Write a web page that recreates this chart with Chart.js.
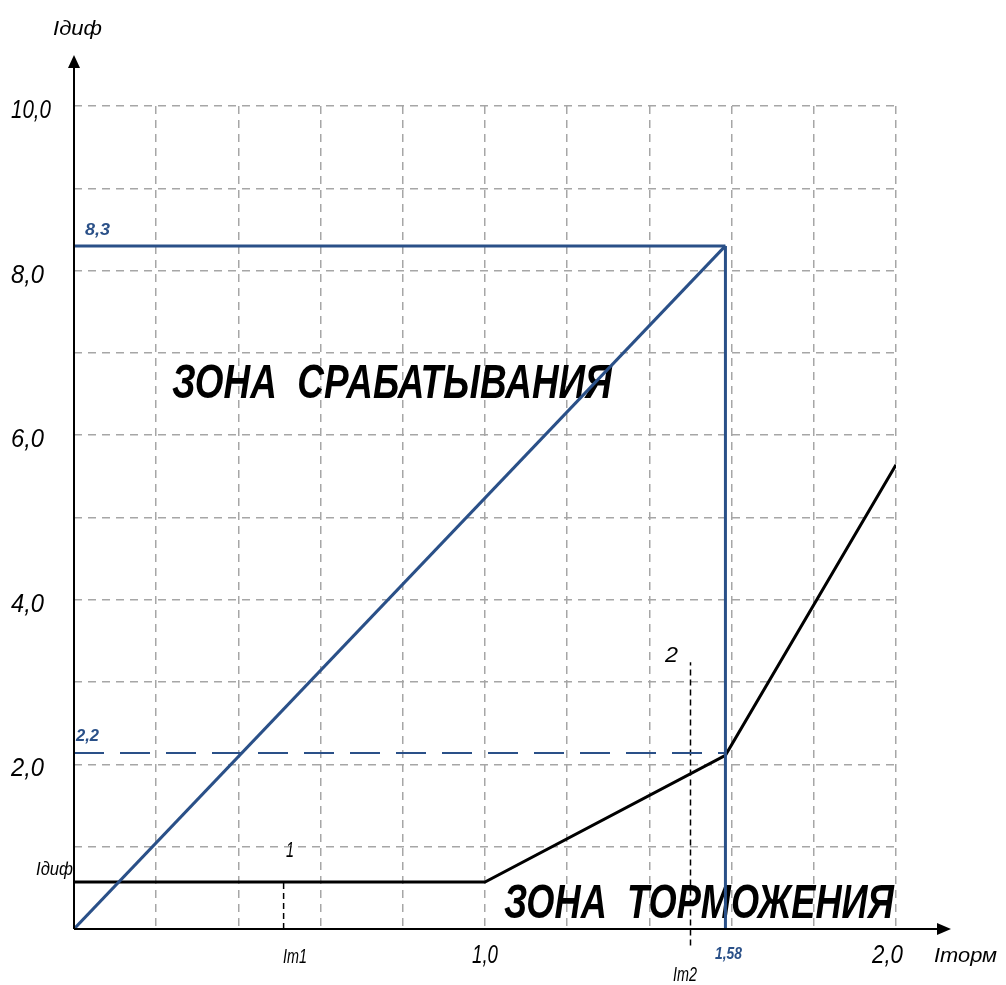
<!DOCTYPE html>
<html>
<head>
<meta charset="utf-8">
<script src="https://cdn.jsdelivr.net/npm/chart.js@4/dist/chart.umd.min.js"></script>
<style>
  body { margin: 0; background: #fff; }
  canvas { display: block; }
</style>
</head>
<body>
<canvas id="chart" width="1006" height="985"></canvas>
<script>
// braking characteristic (black) : Iторм -> Iдиф
const brakeX = [0, 1.0, 1.585, 2.0];
const brakeY = [0.57, 0.57, 2.11, 5.64];

// operating limits (blue)
const limitX = [0, 1.585];
const limitMax = 8.3;
const limitLow = 2.14;

// marker dashed lines Iт1 / Iт2
const mark1X = [0.51, 0.51];
const mark1Y = [0, 0.57];
const mark2X = [1.5, 1.5];
const mark2Y = [-0.2, 3.24];

// tick labels
const yTicks = [2, 4, 6, 8, 10];
const yTickLabels = ["2,0", "4,0", "6,0", "8,0", "10,0"];
const xTicks = [1.0, 2.0];
const xTickLabels = ["1,0", "2,0"];

const BLUE = "#2a5088";
const FONT = "'Liberation Sans', Arial, sans-serif";

const pts = (xs, ys) => xs.map((x, i) => ({ x: x, y: ys[i] }));

// draw text squeezed to a given width, x is left edge, y is baseline
function fitText(ctx, text, x, y, w, font, color) {
  ctx.save();
  ctx.font = font;
  ctx.fillStyle = color || "#000";
  ctx.textAlign = "left";
  ctx.textBaseline = "alphabetic";
  const m = ctx.measureText(text).width;
  ctx.translate(x, y);
  ctx.scale(w / m, 1);
  ctx.fillText(text, 0, 0);
  ctx.restore();
}

const backgroundPlugin = {
  id: "zones",
  beforeDatasetsDraw(chart) {
    const ctx = chart.ctx;
    const bold = "italic bold 48px " + FONT;
    fitText(ctx, "ЗОНА  СРАБАТЫВАНИЯ", 172, 398, 440, bold);
    fitText(ctx, "ЗОНА  ТОРМОЖЕНИЯ", 504, 918, 390, bold);
  },
  afterDatasetsDraw(chart) {
    const ctx = chart.ctx;
    const xs = chart.scales.x;
    const ys = chart.scales.y;
    const x0 = xs.getPixelForValue(0);
    const y0 = ys.getPixelForValue(0);

    // axes with arrows
    ctx.save();
    ctx.strokeStyle = "#000";
    ctx.fillStyle = "#000";
    ctx.lineWidth = 2;
    ctx.beginPath();
    ctx.moveTo(x0, y0);
    ctx.lineTo(x0, 64);
    ctx.moveTo(x0, y0);
    ctx.lineTo(942, y0);
    ctx.stroke();
    ctx.beginPath();
    ctx.moveTo(x0, 55);
    ctx.lineTo(x0 - 6, 68);
    ctx.lineTo(x0 + 6, 68);
    ctx.closePath();
    ctx.fill();
    ctx.beginPath();
    ctx.moveTo(951, y0);
    ctx.lineTo(937, y0 - 6);
    ctx.lineTo(937, y0 + 6);
    ctx.closePath();
    ctx.fill();
    ctx.restore();

    const reg = "italic 25px " + FONT;
    const small = "italic 21px " + FONT;
    const blueBold = "italic bold 17px " + FONT;

    // y tick labels
    yTicks.forEach((v, i) => {
      const w = yTickLabels[i].length > 3 ? 40 : 33;
      fitText(ctx, yTickLabels[i], 11, ys.getPixelForValue(v) + 12, w, reg);
    });
    // x tick labels
    xTicks.forEach((v, i) => {
      const px = xs.getPixelForValue(v);
      fitText(ctx, xTickLabels[i], px - 13 - (i ? 11 : 0), 963, i ? 31 : 26, reg);
    });

    fitText(ctx, "Iдиф", 53, 35, 49, small);
    fitText(ctx, "Iдиф", 36, 875, 37, "italic 19px " + FONT);
    fitText(ctx, "Iторм", 934, 962, 63, small);
    fitText(ctx, "Iт1", 283, 963, 24, small);
    fitText(ctx, "Iт2", 673, 981, 24, small);
    fitText(ctx, "1", 286, 857, 8, "italic 22px " + FONT);
    fitText(ctx, "2", 665, 662, 13, "italic 22px " + FONT);

    fitText(ctx, "8,3", 85, 235, 25, blueBold, BLUE);
    fitText(ctx, "2,2", 76, 741, 23, blueBold, BLUE);
    fitText(ctx, "1,58", 715, 959, 27, blueBold, BLUE);
  }
};

const ctx = document.getElementById("chart");

new Chart(ctx, {
  type: "scatter",
  data: {
    datasets: [
      {
        // diagonal limit
        data: pts([0, limitX[1]], [0, limitMax]),
        showLine: true,
        borderColor: BLUE,
        borderWidth: 3,
      },
      {
        data: pts(limitX, [limitMax, limitMax]),
        showLine: true,
        borderColor: BLUE,
        borderWidth: 3,
      },
      {
        data: pts([limitX[1], limitX[1]], [limitMax, 0]),
        showLine: true,
        borderColor: BLUE,
        borderWidth: 3,
      },
      {
        data: pts(limitX, [limitLow, limitLow]),
        showLine: true,
        borderColor: BLUE,
        borderWidth: 2,
        borderDash: [30, 16],
      },
      {
        data: pts(brakeX, brakeY),
        showLine: true,
        borderColor: "#000",
        borderWidth: 3,
      },
      {
        data: pts(mark1X, mark1Y),
        showLine: true,
        borderColor: "#000",
        borderWidth: 1.5,
        borderDash: [6, 4],
      },
      {
        data: pts(mark2X, mark2Y),
        showLine: true,
        borderColor: "#000",
        borderWidth: 1.5,
        borderDash: [6, 4],
        clip: false,
      },
    ],
  },
  options: {
    responsive: false,
    animation: false,
    events: [],
    elements: { point: { radius: 0 } },
    layout: { padding: { left: 74, right: 110, top: 106, bottom: 56 } },
    plugins: { legend: { display: false }, tooltip: { enabled: false } },
    scales: {
      x: {
        type: "linear",
        min: 0,
        max: 2,
        afterFit(scale) { scale.height = 0; },
        ticks: { display: false, stepSize: 0.2 },
        grid: { color: "#a6a6a6", lineWidth: 1.5, drawTicks: false },
        border: { display: false, dash: [8, 6] },
      },
      y: {
        min: 0,
        max: 10,
        afterFit(scale) { scale.width = 0; },
        ticks: { display: false, stepSize: 1 },
        grid: { color: "#a6a6a6", lineWidth: 1.5, drawTicks: false },
        border: { display: false, dash: [8, 6] },
      },
    },
  },
  plugins: [backgroundPlugin],
});
</script>
</body>
</html>
